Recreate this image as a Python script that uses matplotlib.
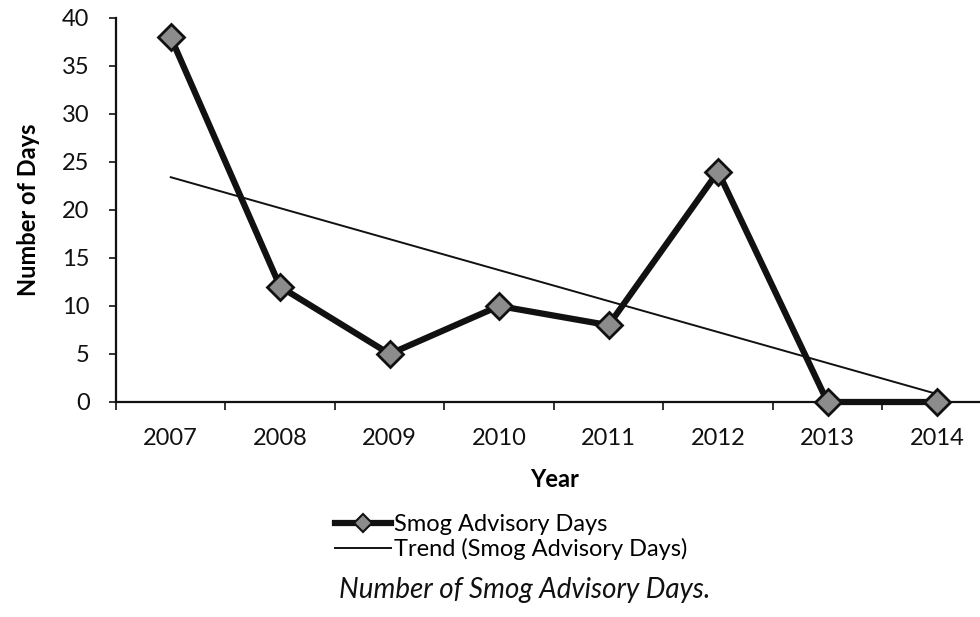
import matplotlib
matplotlib.use("Agg")
import matplotlib.pyplot as plt
import numpy as np
from matplotlib.lines import Line2D

years = ["2007", "2008", "2009", "2010", "2011", "2012", "2013", "2014"]
smog_days = [38, 12, 5, 10, 8, 24, 0, 0]
y_ticks = [0, 5, 10, 15, 20, 25, 30, 35, 40]

plt.rcParams['font.family'] = ['Lato', 'DejaVu Sans']

W, H = 980, 617
fig = plt.figure(figsize=(W / 100, H / 100), dpi=100)
fig.patch.set_facecolor("white")

left, right, top, bottom = 116, 980, 18, 402
ax = fig.add_axes([left / W, 1 - bottom / H, (right - left) / W, (bottom - top) / H])

x = np.arange(len(years))
# linear trend from the data
coef = np.polyfit(x, smog_days, 1)
trend = np.polyval(coef, x)

ax.plot(x, trend, color="#111111", lw=1.4, zorder=2)
ax.plot(x, smog_days, color="#111111", lw=4.5, marker="D", markersize=13,
        markerfacecolor="#8c8c8c", markeredgecolor="#111111", markeredgewidth=2,
        zorder=3, clip_on=False)

ax.set_xlim(-0.5, 7 + (980 - 937) / 109.4)
ax.set_ylim(0, 40)
ax.set_yticks(y_ticks)
ax.set_xticks(x)
ax.set_xticklabels(years)
ax.set_xticks(np.arange(-0.5, 7.0, 1.0), minor=True)

for s in ["top", "right"]:
    ax.spines[s].set_visible(False)
for s in ["left", "bottom"]:
    ax.spines[s].set_linewidth(1.6)
    ax.spines[s].set_color("#111111")

ax.tick_params(axis="x", which="major", length=0, labelsize=17, pad=19, colors="#111111")
ax.tick_params(axis="x", which="minor", length=6, width=1.2, direction="out", colors="#111111")
ax.tick_params(axis="y", length=5, width=1.2, direction="out", labelsize=17, pad=14, colors="#111111")

ax.set_xlabel("Year", fontsize=17, fontweight="bold")
ax.set_ylabel("Number of Days", fontsize=17, fontweight="bold", labelpad=16)
ax.xaxis.set_label_coords((555 - left) / (right - left), -(468 - bottom) / (bottom - top))

handles = [
    Line2D([0], [0], color="#111111", lw=4.5, marker="D", markersize=9,
           markerfacecolor="#8c8c8c", markeredgecolor="#111111", markeredgewidth=1.5),
    Line2D([0], [0], color="#111111", lw=1.4),
]
fig.legend(handles, ["Smog Advisory Days", "Trend (Smog Advisory Days)"],
           loc="upper left", bbox_to_anchor=(323 / W, 1 - 502 / H),
           frameon=False, fontsize=17, handlelength=2.4, handletextpad=0.1,
           labelspacing=0.15, borderpad=0)

fig.text(525 / W, 1 - 590 / H, "Number of Smog Advisory Days.", ha="center", va="center",
         fontsize=20, style="italic", color="#111111")

fig.savefig("out.png", dpi=100, facecolor="white")
